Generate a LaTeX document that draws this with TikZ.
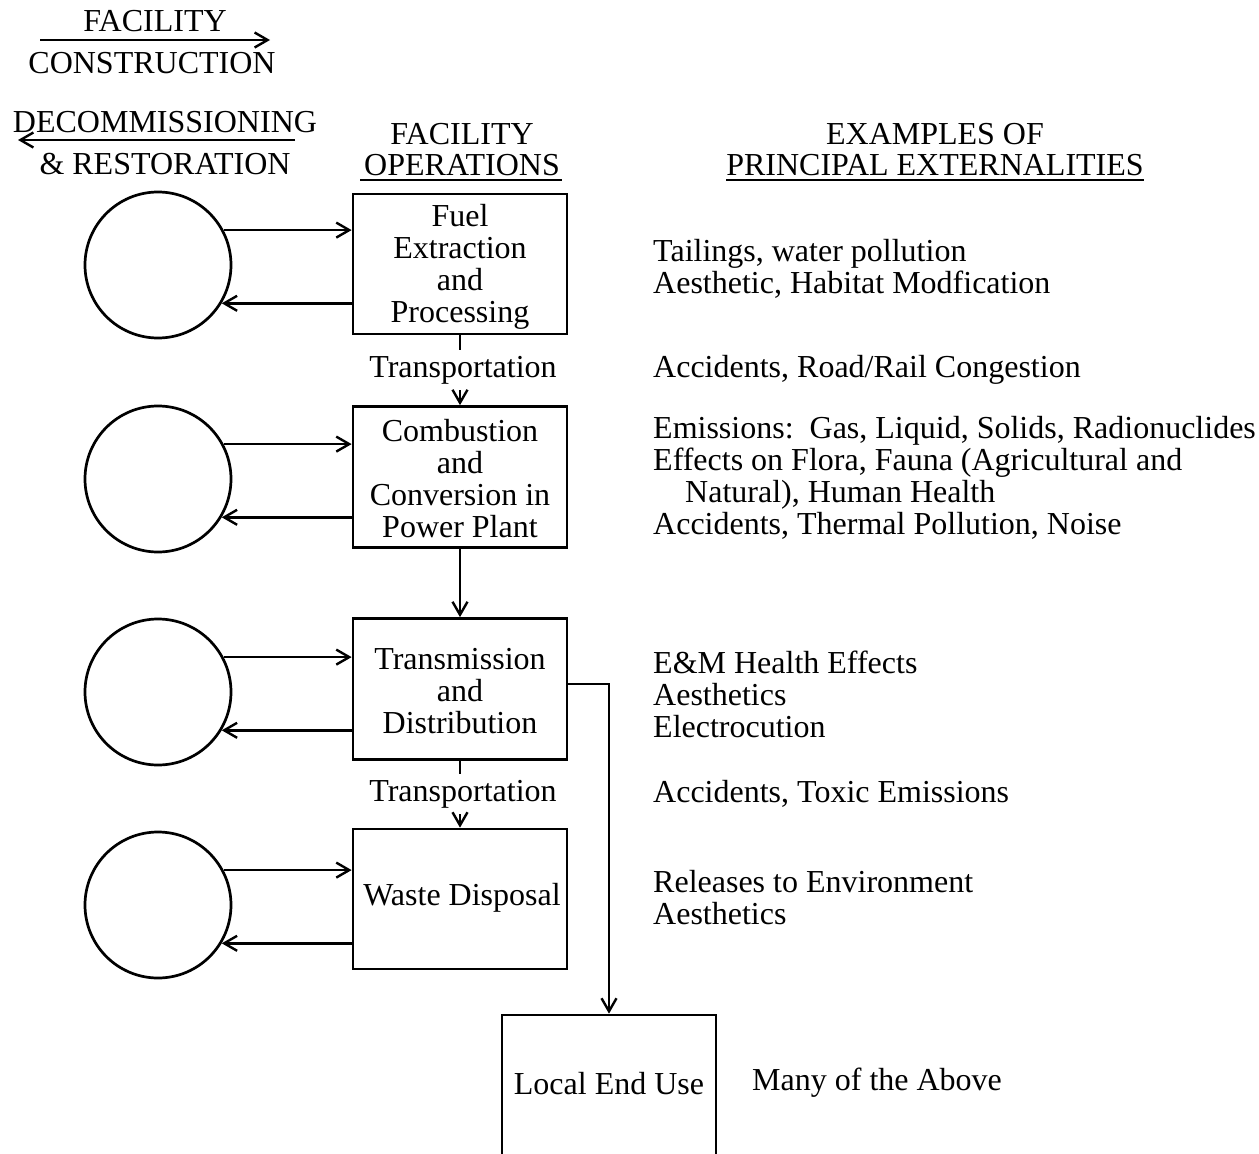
\documentclass[tikz,border=0pt]{standalone}
\usepackage{fontspec}
\setmainfont{Liberation Serif}
\usetikzlibrary{arrows.meta}
\begin{document}
\begin{tikzpicture}[x=1pt,y=-1pt,
  every node/.style={font=\fontsize{32}{32}\selectfont, inner sep=0pt},
  line/.style={line width=2.7pt},
  arr/.style={line, -{Straight Barb[length=13pt,width=15pt,line width=2.4pt]}},
  stage/.style={draw, line width=2.7pt, minimum width=214pt, align=center},
  src/.style={draw, circle, line width=2.7pt, minimum size=146pt},
  lbl/.style={inner xsep=0pt, inner ysep=6pt},
  ext/.style={anchor=west, align=left},
]
\useasboundingbox (0,0) rectangle (1259,1154);
\clip (0,0) rectangle (1259,1154);

% life-cycle direction arrows
\node (hf) at (155,21) {FACILITY};
\node (hc) at (152,63) {CONSTRUCTION};
\coordinate (ca) at (40,40);
\coordinate (cb) at (270,40);
\draw[arr] (ca) -- (cb);
\node (hd) at (165,122) {DECOMMISSIONING};
\node (hr) at (165,164) {\& RESTORATION};
\coordinate (da) at (295,140);
\coordinate (db) at (18,140);
\draw[arr] (da) -- (db);

% column headings
\node (fo1) at (462,134) {FACILITY};
\node (fo2) at (462,165) {OPERATIONS};
\draw[line, line width=2.2pt] ([xshift=-4pt,yshift=-4pt]fo2.south west) -- ([xshift=2pt,yshift=-4pt]fo2.south east);
\node (ex1) at (935,134) {EXAMPLES OF};
\node (ex2) at (935,165) {PRINCIPAL EXTERNALITIES};
\draw[line, line width=2.2pt] ([yshift=-4pt]ex2.south west) -- ([yshift=-4pt]ex2.south east);

% fuel-cycle stages
\node[stage, minimum height=140pt] (b1) at (460,264) {};
\node[align=center] (b1t) at (460,267) {Fuel\\Extraction\\and\\Processing};
\node[stage, minimum height=141pt] (b2) at (460,477) {};
\node[align=center] (b2t) at (460,479) {Combustion\\and\\Conversion in\\Power Plant};
\node[stage, minimum height=141pt] (b3) at (460,689) {};
\node[align=center] (b3t) at (460,691) {Transmission\\and\\Distribution};
\node[stage, minimum height=140pt] (b4) at (460,899) {};
\node (b4t) at (462,898) {Waste Disposal};
\node[stage, minimum height=200pt] (b5) at (609,1115) {};
\node (b5t) at (609,1084) {Local End Use};

% construction / decommissioning loops
\foreach \i/\y in {1/265,2/479,3/692,4/905}{
  \node[src] (c\i) at (158,\y) {};
  \draw[arr] (c\i.28) -- (c\i.28 -| b\i.west);
  \draw[arr] (b\i.west |- c\i.-31) -- (c\i.-31);
}

% flows between stages
\node[lbl] (t1) at (463,370) {Transportation};
\draw[line] (b1.south) -- (t1.north -| b1.south);
\draw[arr] (t1.south -| b1.south) -- (b2.north);
\draw[arr] (b2.south) -- (b3.north);
\node[lbl] (t2) at (463,794) {Transportation};
\draw[line] (b3.south) -- (t2.north -| b3.south);
\draw[arr] (t2.south -| b3.south) -- (b4.north);
\coordinate (b3o) at ([yshift=5pt]b3.east);
\draw[arr] (b3o) -- (b3o -| b5.north) -- (b5.north);

% externalities
\node[ext] (e1) at (653,269) {Tailings, water pollution\\Aesthetic, Habitat Modfication};
\node[ext] (e2) at (653,370) {Accidents, Road/Rail Congestion};
\node[ext] (e3) at (653,478) {Emissions:\ \ Gas, Liquid, Solids, Radionuclides\\Effects on Flora, Fauna (Agricultural and\\\hspace*{32pt}Natural), Human Health\\Accidents, Thermal Pollution, Noise};
\node[ext] (e4) at (653,694) {E\&M Health Effects\\Aesthetics\\Electrocution};
\node[ext] (e5) at (653,794) {Accidents, Toxic Emissions};
\node[ext] (e6) at (653,898) {Releases to Environment\\Aesthetics};
\node[ext] (e7) at (752,1083) {Many of the Above};
\end{tikzpicture}
\end{document}
